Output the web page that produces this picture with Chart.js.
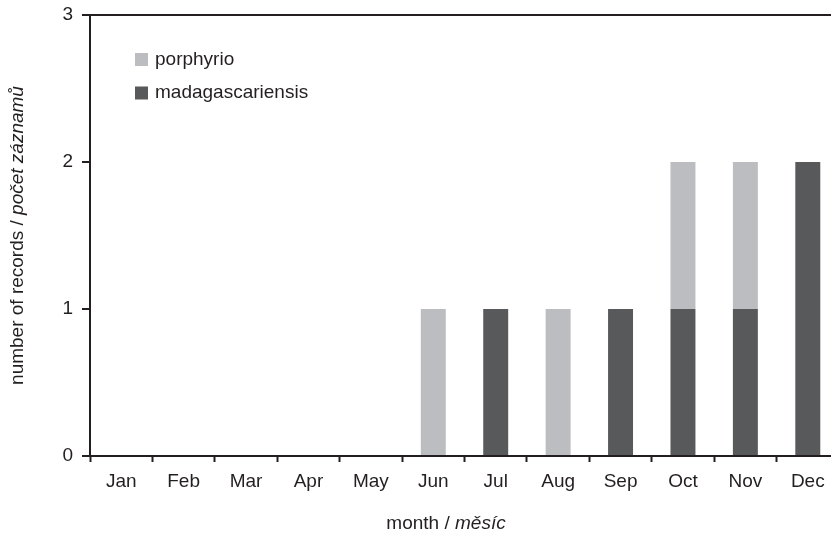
<!DOCTYPE html>
<html>
<head>
<meta charset="utf-8">
<script src="https://cdn.jsdelivr.net/npm/chart.js@4"></script>
<style>
  html, body { margin: 0; padding: 0; background: #fff; overflow: hidden; }
  #wrap { width: 840px; height: 535px; }
</style>
</head>
<body>
<div id="wrap"><canvas id="chart"></canvas></div>
<script>
// month categories
const months = ['Jan', 'Feb', 'Mar', 'Apr', 'May', 'Jun', 'Jul', 'Aug', 'Sep', 'Oct', 'Nov', 'Dec'];

// number of records per month
const porphyrio        = [0, 0, 0, 0, 0, 1, 0, 1, 0, 1, 1, 0];
const madagascariensis = [0, 0, 0, 0, 0, 0, 1, 0, 1, 1, 1, 2];

const yTicks = [0, 1, 2, 3];

const INK = '#231f20';
const LIGHT = '#bcbdc0';
const DARK = '#58595b';
const FONT = "'Liberation Sans', Arial, Helvetica, sans-serif";
const SIZE = 19;

Chart.defaults.font.family = FONT;
Chart.defaults.font.size = SIZE;
Chart.defaults.color = INK;

// draw a line of text made of normal + italic pieces, centred on (0,0)
function mixedText(ctx, parts) {
  let total = 0;
  parts.forEach(p => {
    ctx.font = (p.italic ? 'italic ' : '') + SIZE + 'px ' + FONT;
    p.w = ctx.measureText(p.text).width;
    total += p.w;
  });
  let x = -total / 2;
  parts.forEach(p => {
    ctx.font = (p.italic ? 'italic ' : '') + SIZE + 'px ' + FONT;
    ctx.fillText(p.text, x, 0);
    x += p.w;
  });
}

const decorations = {
  id: 'decorations',
  afterDraw(chart) {
    const ctx = chart.ctx;
    const area = chart.chartArea;
    ctx.save();
    ctx.fillStyle = INK;
    ctx.textAlign = 'left';
    ctx.textBaseline = 'middle';

    // y axis title
    ctx.save();
    ctx.translate(18, (area.top + area.bottom) / 2);
    ctx.rotate(-Math.PI / 2);
    mixedText(ctx, [
      { text: 'number of records / ' },
      { text: 'počet záznamů', italic: true }
    ]);
    ctx.restore();

    // x axis title
    ctx.save();
    ctx.translate(446, 524);
    mixedText(ctx, [
      { text: 'month / ' },
      { text: 'měsíc', italic: true }
    ]);
    ctx.restore();

    // legend (top series first)
    const items = [chart.data.datasets[1], chart.data.datasets[0]];
    items.forEach((ds, i) => {
      const y = 59.5 + i * 33.5;
      ctx.fillStyle = ds.backgroundColor;
      ctx.fillRect(135, y - 6.5, 13, 13);
      ctx.fillStyle = INK;
      ctx.font = SIZE + 'px ' + FONT;
      ctx.fillText(ds.label, 155, y);
    });
    ctx.restore();
  }
};

new Chart(document.getElementById('chart'), {
  type: 'bar',
  data: {
    labels: months,
    datasets: [
      {
        label: 'madagascariensis',
        data: madagascariensis,
        backgroundColor: DARK,
        barPercentage: 0.4,
        categoryPercentage: 1.0
      },
      {
        label: 'porphyrio',
        data: porphyrio,
        backgroundColor: LIGHT,
        barPercentage: 0.4,
        categoryPercentage: 1.0
      }
    ]
  },
  options: {
    responsive: true,
    maintainAspectRatio: false,
    animation: false,
    layout: { padding: { top: 15, right: 1, left: 0, bottom: 0 } },
    plugins: {
      legend: { display: false },
      tooltip: { enabled: false }
    },
    scales: {
      x: {
        stacked: true,
        offset: true,
        grid: {
          offset: true,
          drawOnChartArea: false,
          tickLength: 6,
          tickColor: INK,
          tickWidth: 2
        },
        border: { color: INK, width: 2 },
        ticks: { padding: 8, color: INK, maxRotation: 0 },
        afterFit(scale) {
          scale.height = 79;
          scale.paddingLeft = 0;
          scale.paddingRight = 0;
        }
      },
      y: {
        stacked: true,
        min: 0,
        max: 3,
        afterBuildTicks(scale) { scale.ticks = yTicks.map(v => ({ value: v })); },
        grid: {
          color: c => (c.tick && c.tick.value === 3 ? INK : 'transparent'),
          lineWidth: 2,
          tickLength: 8,
          tickColor: INK,
          tickWidth: 2
        },
        border: { color: INK, width: 2 },
        ticks: { padding: 9, color: INK },
        afterFit(scale) {
          scale.width = 90;
          scale.paddingTop = 0;
          scale.paddingBottom = 0;
        }
      }
    }
  },
  plugins: [decorations]
});
</script>
</body>
</html>
